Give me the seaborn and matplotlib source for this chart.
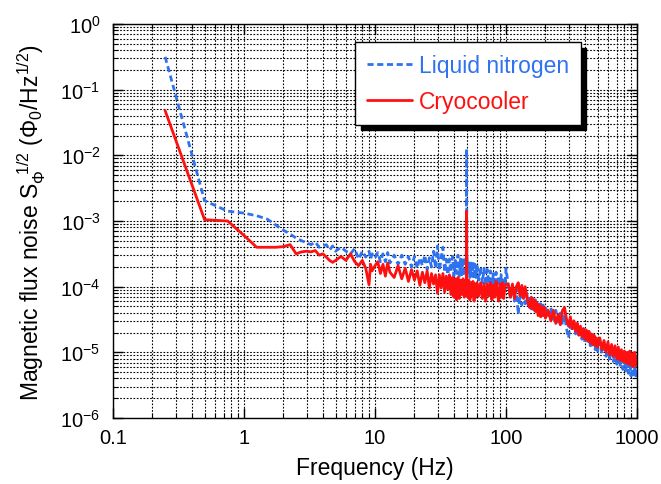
import numpy as np
import matplotlib
matplotlib.use("Agg")
import matplotlib.pyplot as plt
from matplotlib.ticker import LogLocator, LogFormatterMathtext, NullFormatter, FixedLocator, FixedFormatter
import seaborn as sns

# ---------------- data ----------------
freq_hz = [
    0.25, 0.5, 0.75, 1.0, 1.25, 1.5, 1.75, 2.0, 2.25, 2.5, 2.75, 3.0,
    3.25, 3.5, 3.75, 4.0, 4.25, 4.5, 4.75, 5.0, 5.5, 6.0, 6.5, 7.0, 7.5, 8.0, 8.5, 9.0, 9.25, 9.5, 10.0,
    10.5, 11, 11.5, 12, 12.5, 13, 14, 15, 16, 17, 18, 19, 20, 21, 22, 23, 24, 25, 26, 27, 28, 29, 30,
    31, 32, 33, 34, 35, 36, 37, 38, 39, 40, 41, 42, 43, 44, 45, 46, 47, 48, 49, 49.75, 50, 50.25,
    51, 52, 53, 54, 55, 56, 57, 58, 59, 60,
    62, 64, 66, 68, 70, 72, 74, 76, 78, 80, 82, 84, 86, 88, 90, 92, 94, 96, 98, 100,
    104, 108, 112, 116, 120, 124, 128, 132, 136, 140, 144, 148, 152, 156, 160, 164, 168, 172, 176, 180,
    184, 188, 192, 196, 200,
    210, 220, 230, 240, 250, 260, 270, 280, 290, 300, 310, 320, 330, 340, 350, 360, 370, 380, 390, 400,
    410, 420, 430, 440, 450, 460, 470, 480, 490, 500,
    520, 540, 560, 580, 600, 620, 640, 660, 680, 700, 720, 740, 760, 780, 800, 820, 840, 860, 880, 900,
    920, 940, 960, 980, 1000,
]

# log10 of noise (Phi0/Hz^1/2), liquid nitrogen
nitrogen_log10 = [
    -0.50, -2.69, -2.85, -2.88, -2.92, -2.97, -3.06, -3.14, -3.20, -3.26, -3.30, -3.33,
    -3.36, -3.32, -3.40, -3.38, -3.36, -3.44, -3.38, -3.46, -3.40, -3.46, -3.50, -3.42, -3.58, -3.46, -3.55, -3.46, -3.58, -3.50, -3.56,
    -3.48, -3.62, -3.50, -3.62, -3.48, -3.64, -3.52, -3.66, -3.52, -3.66, -3.54, -3.70, -3.54, -3.72, -3.56, -3.68, -3.52, -3.74, -3.56, -3.70, -3.46, -3.72, -3.38,
    -3.76, -3.56, -3.40, -3.78, -3.58, -3.82, -3.58, -3.78, -3.54, -3.84, -3.60, -3.80, -3.52, -3.86, -3.58, -3.82, -3.56, -3.84, -3.62, -3.48, -1.90, -3.52,
    -3.78, -3.60, -3.86, -3.64, -3.84, -3.62, -3.88, -3.66, -3.86, -3.66,
    -3.90, -3.70, -3.94, -3.72, -3.98, -3.74, -3.96, -3.76, -4.02, -3.80, -4.00, -3.78, -4.06, -3.84, -4.04, -3.82, -4.08, -3.86, -4.06, -3.72,
    -3.98, -4.16, -4.00, -4.22, -4.04, -4.42, -4.10, -4.28, -4.06, -4.26, -4.10, -4.30, -4.14, -4.34, -4.18, -4.36, -4.20, -4.38, -4.22, -4.42,
    -4.26, -4.44, -4.28, -4.46, -4.30,
    -4.46, -4.32, -4.50, -4.36, -4.54, -4.40, -4.58, -4.44, -4.64, -4.78, -4.52, -4.68, -4.52, -4.72, -4.56, -4.76, -4.60, -4.80, -4.64, -4.84,
    -4.68, -4.86, -4.70, -4.90, -4.74, -4.92, -4.76, -4.96, -4.80, -4.98,
    -4.84, -5.02, -4.86, -5.06, -4.90, -5.10, -4.94, -5.14, -4.98, -5.18, -5.02, -5.22, -5.06, -5.26, -5.08, -5.28, -5.12, -5.32, -5.14, -5.36,
    -5.18, -5.38, -5.20, -5.36, -5.24,
]

# log10 of noise (Phi0/Hz^1/2), cryocooler
cryocooler_log10 = [
    -1.32, -2.98, -3.00, -3.22, -3.40, -3.40, -3.40, -3.39, -3.36, -3.50, -3.47, -3.46,
    -3.47, -3.45, -3.52, -3.50, -3.55, -3.60, -3.63, -3.60, -3.54, -3.60, -3.50, -3.62, -3.68, -3.60, -3.72, -3.97, -3.66, -3.76, -3.68,
    -3.62, -3.80, -3.66, -3.84, -3.64, -3.78, -3.86, -3.68, -3.88, -3.72, -3.92, -3.74, -3.90, -3.76, -3.98, -3.78, -3.94, -3.76, -4.02, -3.80, -3.96, -3.82, -4.10,
    -3.82, -4.02, -3.80, -4.08, -3.84, -4.04, -3.82, -4.12, -3.86, -4.16, -3.88, -4.20, -3.86, -4.18, -3.90, -4.12, -3.88, -4.16, -3.92, -3.96, -2.85, -3.94,
    -4.16, -3.90, -4.20, -3.94, -4.14, -3.92, -4.22, -3.96, -4.16, -3.94,
    -4.14, -3.94, -4.18, -3.96, -4.22, -3.96, -4.14, -3.94, -4.20, -3.98, -4.16, -3.92, -4.12, -4.22, -3.96, -4.16, -3.94, -4.18, -4.00, -3.96,
    -3.96, -4.16, -3.96, -4.18, -4.00, -3.94, -4.14, -3.98, -4.18, -4.00, -4.14, -4.26, -4.32, -4.16, -4.34, -4.20, -4.38, -4.24, -4.44, -4.28,
    -4.46, -4.30, -4.44, -4.32, -4.48,
    -4.36, -4.52, -4.36, -4.56, -4.42, -4.58, -4.36, -4.32, -4.50, -4.60, -4.46, -4.64, -4.52, -4.68, -4.56, -4.74, -4.60, -4.76, -4.64, -4.80,
    -4.66, -4.82, -4.68, -4.86, -4.72, -4.88, -4.74, -4.90, -4.78, -4.92,
    -4.78, -4.96, -4.82, -5.00, -4.84, -5.04, -4.88, -5.06, -4.90, -5.10, -4.92, -5.12, -4.96, -5.14, -4.98, -5.16, -5.00, -5.18, -4.98, -5.20,
    -5.02, -5.22, -5.00, -5.20, -5.06,
]

series_labels = ["Liquid nitrogen", "Cryocooler"]
x_tick_values = [0.1, 1, 10, 100, 1000]
x_tick_labels = ["0.1", "1", "10", "100", "1000"]

# ---------------- style ----------------
sns.set_theme(style="ticks")
plt.rcParams["font.family"] = ["Liberation Sans", "DejaVu Sans"]
plt.rcParams["mathtext.fontset"] = "custom"
plt.rcParams["mathtext.rm"] = "Liberation Sans"
plt.rcParams["mathtext.it"] = "Liberation Sans:italic"
plt.rcParams["mathtext.bf"] = "Liberation Sans:bold"

BLUE = "#2E72F0"
RED = "#FF1010"

fig = plt.figure(figsize=(6.61, 4.85), dpi=100)
ax = fig.add_axes([113 / 661, 1 - 419 / 485, 524 / 661, 394 / 485])
ax.set_xscale("log")
ax.set_yscale("log")

f = np.array(freq_hz)
ln2 = 10 ** np.array(nitrogen_log10)
cryo = 10 ** np.array(cryocooler_log10)

sns.lineplot(x=f, y=ln2, ax=ax, estimator=None, sort=False, color=BLUE,
             linewidth=2.0, linestyle=(0, (2.2, 1.3)), label=series_labels[0])
sns.lineplot(x=f, y=cryo, ax=ax, estimator=None, sort=False, color=RED,
             linewidth=2.0, label=series_labels[1])

ax.set_xlim(0.1, 1000)
ax.set_ylim(1e-6, 1)

ax.xaxis.set_major_locator(FixedLocator(x_tick_values))
ax.xaxis.set_major_formatter(FixedFormatter(x_tick_labels))
ax.xaxis.set_minor_locator(LogLocator(base=10, subs=np.arange(2, 10), numticks=100))
ax.xaxis.set_minor_formatter(NullFormatter())
ax.yaxis.set_major_locator(LogLocator(base=10, numticks=20))
ax.yaxis.set_major_formatter(LogFormatterMathtext())
ax.yaxis.set_minor_locator(LogLocator(base=10, subs=np.arange(2, 10), numticks=100))
ax.yaxis.set_minor_formatter(NullFormatter())

ax.set_axisbelow(True)
ax.grid(True, which="both", color="black", linestyle=(0, (1.5, 1.5)), linewidth=0.8)

for s in ax.spines.values():
    s.set_visible(True)
    s.set_color("black")
    s.set_linewidth(1.0)

ax.tick_params(which="major", direction="in", length=7, width=1, color="black",
               top=True, right=True, labelsize=14.5, labelcolor="black")
ax.tick_params(which="minor", direction="in", length=3.5, width=0.8, color="black",
               top=True, right=True)
ax.tick_params(axis="x", which="major", pad=7)
ax.tick_params(axis="y", which="major", pad=9)

ax.set_xlabel("Frequency (Hz)", fontsize=16.5, color="black", labelpad=7)
ax.set_ylabel(r"Magnetic flux noise S$_{\Phi}^{\ \ 1/2}$ ($\Phi_0$/Hz$^{1/2}$)",
              fontsize=16.5, color="black", labelpad=9)

leg = ax.legend(loc="upper left", bbox_to_anchor=(0.462, 0.954), frameon=True,
                fancybox=False, edgecolor="black", framealpha=1,
                shadow={"color": "black", "alpha": 1, "ox": 4, "oy": -4},
                fontsize=16.5, labelcolor="linecolor", handlelength=2.0,
                handletextpad=0.3, borderpad=0.5, labelspacing=0.6, borderaxespad=0)
leg.get_frame().set_linewidth(1.0)

fig.savefig("out.png", dpi=100)
